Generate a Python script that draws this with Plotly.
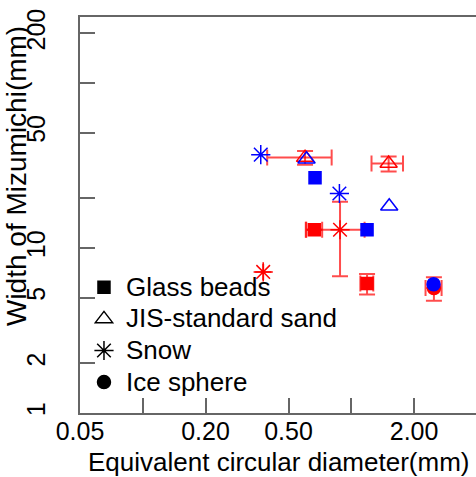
import plotly.graph_objects as go

# ---------------- data ----------------
categories = ["Glass beads", "JIS-standard sand", "Snow", "Ice sphere"]

# red series (with error bars)
red_gb_x = [0.665, 1.19]
red_gb_y = [12.9, 6.09]
red_gb_ex = [0.06, 0.085]
red_gb_ey = [None, 0.86]

red_jis_x = [0.60, 1.51]
red_jis_y = [35.3, 32.5]
red_jis_ex = [0.205, 0.26]
red_jis_ey = [3.4, 3.4]

red_snow_x = [0.883, 0.378]
red_snow_y = [12.9, 7.16]
red_snow_ex = [0.275, None]
red_snow_ey = [6.15, None]

red_ice_x = [2.49]
red_ice_y = [5.72]
red_ice_ex = [0.22]
red_ice_ey = [0.93]

# blue series (no error bars)
blue_gb_x = [0.67, 1.19]
blue_gb_y = [26.7, 12.9]
blue_jis_x = [0.61, 1.52]
blue_jis_y = [34.5, 17.9]
blue_snow_x = [0.368, 0.877]
blue_snow_y = [36.8, 21.4]
blue_ice_x = [2.48]
blue_ice_y = [6.03]

x_tickvals = [0.05, 0.1, 0.2, 0.5, 1, 2]
x_ticktext = ["0.05", "", "0.20", "0.50", "", "2.00"]
y_tickvals = [1, 2, 5, 10, 20, 50, 100, 200]
y_ticktext = ["1", "2", "5", "10", "", "50", "", "200"]

# ---------------- styles ----------------
FONT = "Liberation Sans, Arial, sans-serif"
RED = "rgb(255,0,0)"
BLUE = "rgb(0,0,255)"
ERR = "rgba(255,0,0,0.7)"
AX = "#666666"

symbols = {"Glass beads": "square", "JIS-standard sand": "triangle-up-open",
           "Snow": "asterisk-open", "Ice sphere": "circle"}
sizes = {"Glass beads": 12, "JIS-standard sand": 15, "Snow": 16, "Ice sphere": 13}

fig = go.Figure()


def marker(cat, color):
    return dict(symbol=symbols[cat], size=sizes[cat], color=color,
                line=dict(color=color, width=1.5))


red_sets = [
    ("Glass beads", red_gb_x, red_gb_y, red_gb_ex, red_gb_ey),
    ("JIS-standard sand", red_jis_x, red_jis_y, red_jis_ex, red_jis_ey),
    ("Snow", red_snow_x, red_snow_y, red_snow_ex, red_snow_ey),
    ("Ice sphere", red_ice_x, red_ice_y, red_ice_ex, red_ice_ey),
]
for cat, xs, ys, ex, ey in red_sets:
    fig.add_trace(go.Scatter(
        x=xs, y=ys, mode="markers", marker=marker(cat, RED), showlegend=False,
        error_x=dict(type="data", array=ex, visible=True, color=ERR, thickness=2, width=8),
        error_y=dict(type="data", array=ey, visible=True, color=ERR, thickness=2, width=8),
    ))

blue_sets = [
    ("Glass beads", blue_gb_x, blue_gb_y),
    ("JIS-standard sand", blue_jis_x, blue_jis_y),
    ("Snow", blue_snow_x, blue_snow_y),
    ("Ice sphere", blue_ice_x, blue_ice_y),
]
for cat, xs, ys in blue_sets:
    fig.add_trace(go.Scatter(x=xs, y=ys, mode="markers", marker=marker(cat, BLUE),
                             showlegend=False))

# legend keys (black)
for i, cat in enumerate(categories):
    fig.add_trace(go.Scatter(
        x=[None], y=[None], mode="markers", legendgroup=str(i),
        name='<span style="font-size:26px">%s</span>' % cat,
        marker=marker(cat, "black"), showlegend=True))

fig.update_layout(
    width=476, height=477,
    margin=dict(l=80, r=0, t=17, b=64),
    paper_bgcolor="white", plot_bgcolor="white",
    font=dict(family=FONT, color="black", size=25),
    showlegend=True,
    legend=dict(x=0.005, y=0.37, xanchor="left", yanchor="top",
                bgcolor="rgba(0,0,0,0)", font=dict(size=22, family=FONT),
                itemwidth=34, tracegroupgap=0),
    xaxis=dict(type="log", range=[-1.301, 0.598], tickvals=x_tickvals, ticktext=x_ticktext,
               ticks="inside", ticklen=15, tickwidth=1.5, tickcolor=AX,
               showline=True, linecolor=AX, linewidth=1.5, mirror=True,
               showgrid=False, zeroline=False, tickfont=dict(size=25),
               ticklabelstandoff=-5),
    yaxis=dict(type="log", range=[0, 2.4], tickvals=y_tickvals, ticktext=y_ticktext,
               ticks="inside", ticklen=15, tickwidth=1.5, tickcolor=AX,
               showline=True, linecolor=AX, linewidth=1.5, mirror=False,
               showgrid=False, zeroline=False, tickangle=-90, tickfont=dict(size=25),
               ticklabelstandoff=23),
    annotations=[
        dict(text="Width of Mizumichi(mm)", xref="paper", yref="paper",
             x=-0.162, y=0.598, xanchor="center", yanchor="middle", showarrow=False,
             textangle=-90, font=dict(size=28, family=FONT)),
        dict(text="Equivalent circular diameter(mm)", xref="paper", yref="paper",
             x=0.5, y=-0.124, xanchor="center", yanchor="middle", showarrow=False,
             font=dict(size=26, family=FONT)),
    ],
)

fig.write_html("out.html", config={"displayModeBar": False},
               post_script="document.body.style.margin='0';document.body.style.overflow='hidden';")
